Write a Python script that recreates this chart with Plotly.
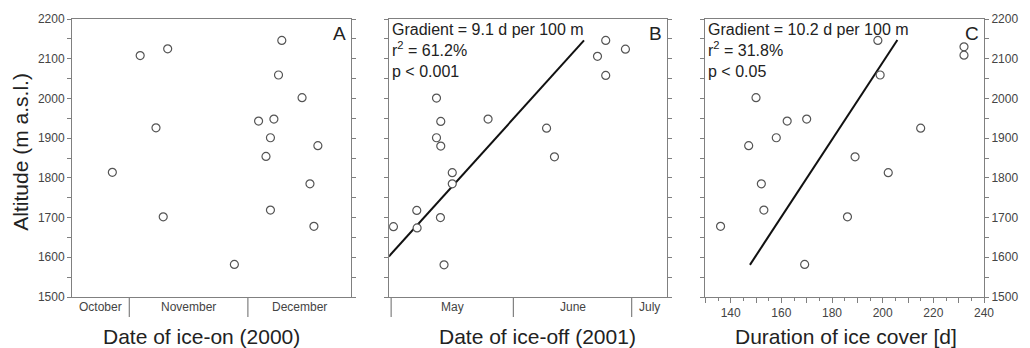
import plotly.graph_objects as go
import pandas as pd

# ---------------- data ----------------
# Panel A: date of ice-on (2000) vs altitude
ice_on_dates = ["2000-10-27 17:00", "2000-11-03 18:00", "2000-11-10 17:00", "2000-11-07 18:00",
                "2000-11-09 14:00", "2000-11-27 14:00", "2000-12-09 14:00", "2000-12-08 18:00",
                "2000-12-14 17:00", "2000-12-03 17:00", "2000-12-07 14:00", "2000-12-06 17:00",
                "2000-12-18 17:00", "2000-12-05 14:00", "2000-12-06 17:00", "2000-12-16 17:00",
                "2000-12-17 17:00"]
ice_on_alt = [1814, 2108, 2125, 1926, 1702, 1582, 2146, 2059, 2002, 1943, 1948, 1901,
              1881, 1854, 1719, 1785, 1678]

# Panel B: date of ice-off (2001) vs altitude
ice_off_dates = ["2001-06-24 10:00", "2001-06-29 10:00", "2001-06-22 08:00", "2001-06-24 10:00",
                 "2001-05-12 12:00", "2001-05-13 14:00", "2001-05-25 14:00", "2001-06-09 10:00",
                 "2001-05-12 12:00", "2001-05-13 14:00", "2001-06-11 10:00", "2001-05-16 12:00",
                 "2001-05-16 12:00", "2001-05-07 12:00", "2001-05-13 12:00", "2001-05-01 14:00",
                 "2001-05-07 14:00", "2001-05-14 10:00"]
ice_off_alt = [2146, 2124, 2106, 2058, 2001, 1942, 1948, 1925, 1901, 1880, 1853, 1813,
               1785, 1718, 1700, 1677, 1674, 1581]
ice_off_fit_dates = ["2001-04-30 10:00", "2001-06-18 22:00"]
ice_off_fit_alt = [1602, 2146]

# Panel C: duration of ice cover vs altitude
duration_days = [198.1, 232.1, 232.1, 199.0, 150.0, 162.3, 170.0, 215.0, 158.0, 147.1,
                 189.1, 202.2, 152.1, 153.1, 186.1, 136.0, 169.2]
duration_alt = [2146, 2130, 2109, 2059, 2002, 1943, 1948, 1925, 1901, 1881,
                1853, 1813, 1785, 1719, 1702, 1678, 1582]
duration_fit_days = [147.6, 205.8]
duration_fit_alt = [1581, 2147]

# Month categories on the date axes
months_A = ["October", "November", "December"]
month_starts_A = ["2000-10-01", "2000-11-01", "2000-12-01", "2001-01-01"]
months_B = ["May", "June", "July"]
month_starts_B = ["2001-05-01", "2001-06-01", "2001-07-01", "2001-08-01"]
range_A = ["2000-10-17 12:00", "2000-12-27 00:00"]
range_B = ["2001-04-30 12:00", "2001-07-09 22:00"]

# Axis ticks
alt_ticks = list(range(1500, 2201, 50))
alt_labels = [str(v) if v % 100 == 0 else "" for v in alt_ticks]
dur_ticks = list(range(130, 241, 10))
dur_labels = [str(v) if v % 20 == 0 else "" for v in dur_ticks]

stats_B = "Gradient = 9.1 d per 100 m<br>r<sup>2</sup> = 61.2%<br>p < 0.001"
stats_C = "Gradient = 10.2 d per 100 m<br>r<sup>2</sup> = 31.8%<br>p < 0.05"

# ---------------- figure ----------------
FONT = "Liberation Sans, Arial, sans-serif"
AXC = "#808080"
TXT = "#222222"
TICKC = "#444444"

fig = go.Figure()

marker = dict(symbol="circle", size=8, color="white", line=dict(color="#555555", width=1.2))

fig.add_trace(go.Scatter(x=pd.to_datetime(ice_on_dates), y=ice_on_alt, mode="markers",
                         marker=marker, xaxis="x", yaxis="y", showlegend=False))
fig.add_trace(go.Scatter(x=pd.to_datetime(ice_off_fit_dates), y=ice_off_fit_alt, mode="lines",
                         line=dict(color="#111111", width=2), xaxis="x2", yaxis="y2", showlegend=False))
fig.add_trace(go.Scatter(x=pd.to_datetime(ice_off_dates), y=ice_off_alt, mode="markers",
                         marker=marker, xaxis="x2", yaxis="y2", showlegend=False))
fig.add_trace(go.Scatter(x=duration_fit_days, y=duration_fit_alt, mode="lines",
                         line=dict(color="#111111", width=2), xaxis="x3", yaxis="y3", showlegend=False))
fig.add_trace(go.Scatter(x=duration_days, y=duration_alt, mode="markers",
                         marker=marker, xaxis="x3", yaxis="y3", showlegend=False))

L, R, T, B = 72, 35, 18, 51
W, H = 1030, 348
pw = W - L - R
ph = H - T - B


def px2fx(px):
    return (px - L) / pw


def px2fy(py):
    return (H - B - py) / ph


dom_A = [0, px2fx(354)]
dom_B = [px2fx(393), px2fx(674)]
dom_C = [px2fx(713), 1]

yaxis_common = dict(range=[1500, 2200], tickvals=alt_ticks, ticktext=alt_labels,
                    ticks="outside", ticklen=4, tickcolor=AXC, tickwidth=1,
                    showline=True, linecolor=AXC, linewidth=1, mirror="ticks",
                    showgrid=False, zeroline=False,
                    tickfont=dict(family=FONT, size=12, color=TICKC))
xdate_common = dict(type="date", showticklabels=False, ticks="", showline=True,
                    linecolor=AXC, linewidth=1, mirror=True, showgrid=False, zeroline=False)

fig.update_layout(
    width=W, height=H,
    margin=dict(l=L, r=R, t=T, b=B),
    paper_bgcolor="white", plot_bgcolor="white",
    xaxis=dict(domain=dom_A, range=range_A, anchor="y", **xdate_common),
    yaxis=dict(domain=[0, 1], anchor="x", side="left", **yaxis_common),
    xaxis2=dict(domain=dom_B, range=range_B, anchor="y2", **xdate_common),
    yaxis2=dict(domain=[0, 1], anchor="x2", side="left", showticklabels=False,
                **{k: v for k, v in yaxis_common.items()}),
    xaxis3=dict(domain=dom_C, range=[130, 240], anchor="y3", tickvals=dur_ticks, ticktext=dur_labels,
                ticks="outside", ticklen=5, tickcolor=AXC, showline=True, linecolor=AXC,
                linewidth=1, mirror=True, showgrid=False, zeroline=False,
                minor=dict(dtick=5, ticks="outside", ticklen=3, tickcolor=AXC, showgrid=False),
                tickfont=dict(family=FONT, size=12, color=TICKC)),
    yaxis3=dict(domain=[0, 1], anchor="x3", side="right", **yaxis_common),
    font=dict(family=FONT, color=TXT),
)

annotations = []
shapes = []


def month_marks(months, starts, rng, xref, yref):
    r0, r1 = pd.to_datetime(rng[0]), pd.to_datetime(rng[1])
    st = pd.to_datetime(starts)
    for i, name in enumerate(months):
        a, b = max(st[i], r0), min(st[i + 1], r1)
        mid = a + (b - a) / 2
        annotations.append(dict(x=mid, y=-0.036, xref=xref, yref=yref + " domain", text=name,
                                showarrow=False, xanchor="center", yanchor="middle",
                                font=dict(family=FONT, size=12, color=TICKC)))
    for s in st:
        if r0 < s < r1:
            shapes.append(dict(type="line", xref=xref, yref=yref + " domain", x0=s, x1=s,
                               y0=0, y1=-0.072, line=dict(color=AXC, width=1.2)))


month_marks(months_A, month_starts_A, range_A, "x", "y")
month_marks(months_B, month_starts_B, range_B, "x2", "y2")

# panel letters
for letter, xr, yr in [("A", "x", "y"), ("B", "x2", "y2"), ("C", "x3", "y3")]:
    annotations.append(dict(x=1, y=1, xref=xr + " domain", yref=yr + " domain", text=letter,
                            showarrow=False, xanchor="right", yanchor="top", xshift=-3, yshift=-2,
                            font=dict(family=FONT, size=19, color=TXT)))

# statistics text
for txt, xr, yr in [(stats_B, "x2", "y2"), (stats_C, "x3", "y3")]:
    annotations.append(dict(x=0, y=1, xref=xr + " domain", yref=yr + " domain", text=txt,
                            showarrow=False, xanchor="left", yanchor="top", align="left",
                            xshift=1, yshift=0,
                            font=dict(family=FONT, size=16, color=TXT)))

# axis titles
for txt, px in [("Date of ice-on (2000)", 203), ("Date of ice-off (2001)", 543),
                ("Duration of ice cover [d]", 855)]:
    annotations.append(dict(x=px2fx(px), y=px2fy(337), xref="paper", yref="paper", text=txt,
                            showarrow=False, xanchor="center", yanchor="middle",
                            font=dict(family=FONT, size=21, color=TXT)))
annotations.append(dict(x=px2fx(19), y=px2fy(151.5), xref="paper", yref="paper",
                        text="Altitude (m a.s.l.)", textangle=-90, showarrow=False,
                        xanchor="center", yanchor="middle",
                        font=dict(family=FONT, size=21, color=TXT)))

fig.update_layout(annotations=annotations, shapes=shapes)

fig.write_html("out.html")
